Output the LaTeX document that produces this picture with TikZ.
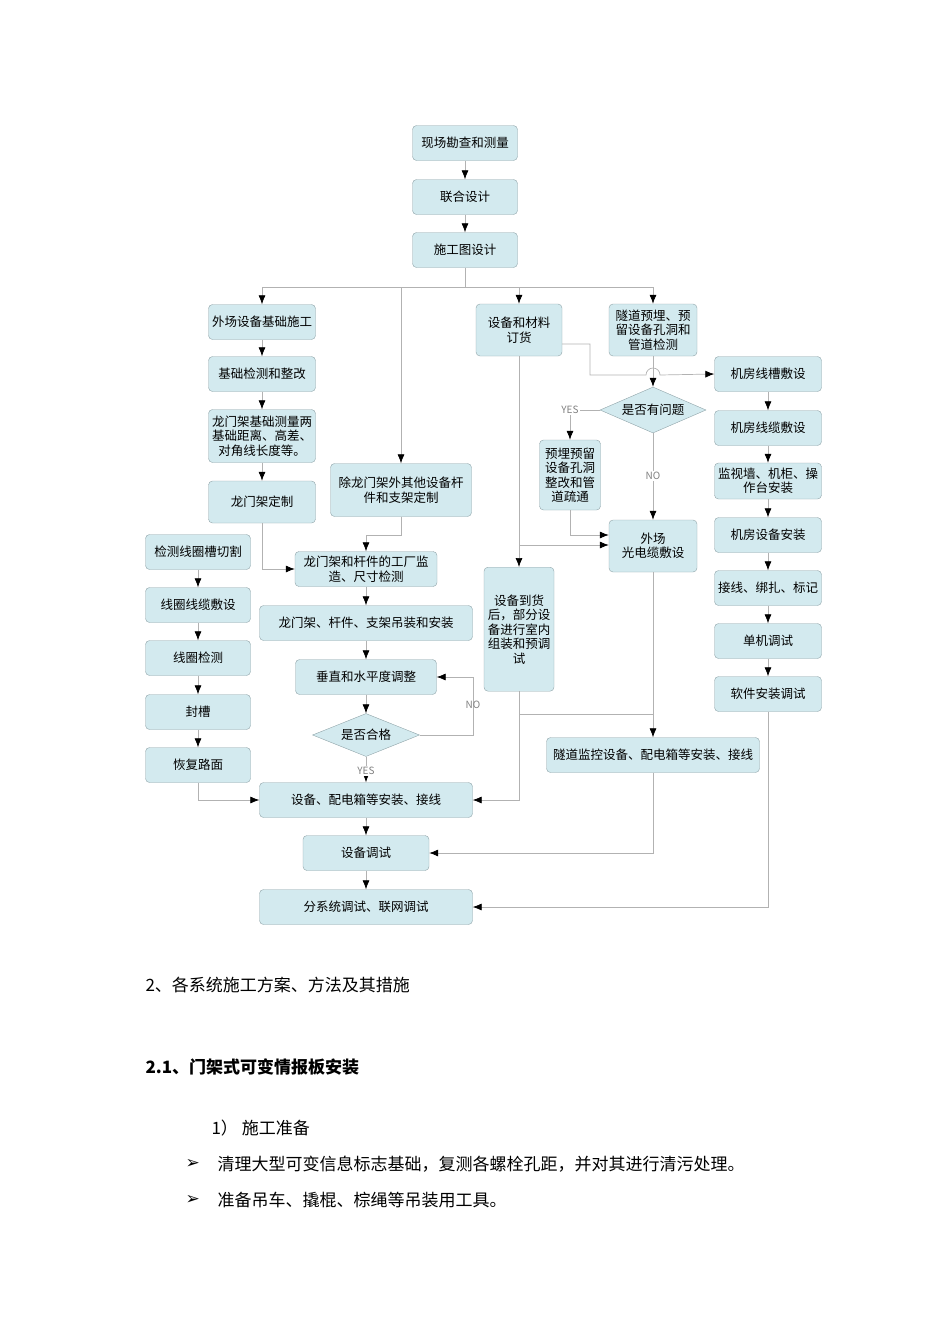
\documentclass[tikz,border=0pt]{standalone}
\usepackage{fontspec}
\setmainfont{Noto Sans CJK SC}
\newfontfamily\symfont{DejaVu Sans}
\usetikzlibrary{arrows.meta,shapes.geometric}
\definecolor{boxfill}{HTML}{D3EAEF}
\definecolor{boxdraw}{HTML}{8FA3A8}
\begin{document}
\begin{tikzpicture}[x=1pt,y=-1pt,
  box/.style={draw=boxdraw,fill=boxfill,rounded corners=4pt,minimum height=35pt,align=center,font=\fontsize{12.5}{14.5}\selectfont,inner sep=1pt},
  dia/.style={draw=boxdraw,fill=boxfill,diamond,aspect=2.5,inner sep=1pt,font=\fontsize{12.5}{14.5}\selectfont},
  ln/.style={draw=gray!60,line width=0.7pt},
  ar/.style={ln,-{Latex[black,length=9pt,width=7pt]}},
  lab/.style={font=\fontsize{10}{12}\selectfont\rmfamily,text=gray}]
\useasboundingbox (0,0) rectangle (950,1344);
% main column
\node[box,minimum width=105pt] (A) at (465,143) {现场勘查和测量};
\node[box,minimum width=105pt] (B) at (465,197) {联合设计};
\node[box,minimum width=105pt] (C) at (465,250) {施工图设计};
\node[box,minimum width=107pt] (D) at (262,322) {外场设备基础施工};
\node[box,minimum width=107pt] (E) at (262,374) {基础检测和整改};
\node[box,minimum width=107pt,minimum height=53pt] (F) at (262,436) {龙门架基础测量两\\基础距离、高差、\\对角线长度等。};
\node[box,minimum width=107pt,minimum height=42pt] (G) at (262,502) {龙门架定制};
\node[box,minimum width=141pt,minimum height=53pt] (H) at (401,490) {除龙门架外其他设备杆\\件和支架定制};
\node[box,minimum width=142pt] (I) at (366,569) {龙门架和杆件的工厂监\\造、尺寸检测};
\node[box,minimum width=105pt] (J) at (198,552) {检测线圈槽切割};
\node[box,minimum width=105pt] (K) at (198,605) {线圈线缆敷设};
\node[box,minimum width=105pt] (L) at (198,658) {线圈检测};
\node[box,minimum width=105pt] (M) at (198,712) {封槽};
\node[box,minimum width=105pt] (N) at (198,765) {恢复路面};
\node[box,minimum width=213pt] (O) at (366,623) {龙门架、杆件、支架吊装和安装};
\node[box,minimum width=141pt] (P) at (366,677) {垂直和水平度调整};
\node[dia,minimum width=107pt,minimum height=43pt] (Q) at (366,735) {是否合格};
\node[box,minimum width=213pt] (R) at (366,800) {设备、配电箱等安装、接线};
\node[box,minimum width=126pt] (S) at (366,853) {设备调试};
\node[box,minimum width=213pt] (T) at (366,907) {分系统调试、联网调试};
\node[box,minimum width=86pt,minimum height=52pt] (U) at (519,330) {设备和材料\\订货};
\node[box,minimum width=70pt,minimum height=124pt,anchor=north] (V) at (519,567) {设备到货\\后，部分设\\备进行室内\\组装和预调\\试};
\node[box,minimum width=88pt,minimum height=52pt] (W) at (653,330) {隧道预埋、预\\留设备孔洞和\\管道检测};
\node[dia,minimum width=106pt,minimum height=46pt] (X) at (653,410) {是否有问题};
\node[box,minimum width=61pt,minimum height=70pt] (Y) at (570,475) {预埋预留\\设备孔洞\\整改和管\\道疏通};
\node[box,minimum width=88pt,minimum height=52pt] (Z) at (653,546) {外场\\光电缆敷设};
\node[box,minimum width=213pt] (AA) at (653,755) {隧道监控设备、配电箱等安装、接线};
\node[box,minimum width=107pt] (BB) at (768,374) {机房线槽敷设};
\node[box,minimum width=107pt] (CC) at (768,428) {机房线缆敷设};
\node[box,minimum width=107pt,minimum height=36pt] (DD) at (768,481) {监视墙、机柜、操\\作台安装};
\node[box,minimum width=107pt] (EE) at (768,535) {机房设备安装};
\node[box,minimum width=107pt] (FF) at (768,588) {接线、绑扎、标记};
\node[box,minimum width=107pt] (GG) at (768,641) {单机调试};
\node[box,minimum width=107pt] (HH) at (768,694) {软件安装调试};
% connectors
\draw[ar] (A) -- (B);
\draw[ar] (B) -- (C);
\coordinate (bus) at (465,287);
\draw[ln] (C.south) -- (bus);
\draw[ln] (262,287) -- (653,287);
\draw[ar] (262,287) -- (D.north);
\draw[ar] (401,287) -- (H.north);
\draw[ar] (519,287) -- (U.north);
\draw[ar] (653,287) -- (W.north);
\draw[ar] (D) -- (E);
\draw[ar] (E) -- (F);
\draw[ar] (F) -- (G);
\draw[ar] (G.south) |- (I.west);
\draw[ar] (H.south) -- (401,535) -| (I.north);
\draw[ar] (I) -- (O);
\draw[ar] (O) -- (P);
\draw[ar] (P) -- (Q);
\draw[ar] (Q.east) -- (473,735) -- (473,677) -- (P.east);
\node[lab] (noq) at (473,705) {NO};
\draw[ar] (Q.south) -- (R.north);
\node[lab,fill=white,inner sep=1pt] (yesq) at (366,771) {YES};
\draw[ar] (J) -- (K);
\draw[ar] (K) -- (L);
\draw[ar] (L) -- (M);
\draw[ar] (M) -- (N);
\draw[ar] (N.south) |- (R.west);
\draw[ar] (R) -- (S);
\draw[ar] (S) -- (T);
\draw[ar] (U.south) -- (V.north);
\draw[ar] (519,545) -- (Z.west |- 0,545);
\draw[ar] (U.east |- 0,344) -- (590,344) -- (590,375) -- (646,375) arc (180:360:7) -- (BB.west);
\draw[ar] (W.south) -- (X.north);
\draw[ar] (X.west) -- (570,410) -- (Y.north);
\node[lab,fill=white,inner sep=1pt] (yesx) at (570,410) {YES};
\draw[ar] (X.south) -- (Z.north);
\node[lab,fill=white,inner sep=1pt] (nox) at (653,476) {NO};
\draw[ar] (Y.south) |- (Z.west |- 0,535);
\draw[ar] (Z.south) -- (AA.north);
\draw[ln] (V.south) -- (519,714) -- (653,714);
\draw[ar] (519,714) |- (R.east);
\draw[ar] (AA.south) |- (S.east);
\draw[ar] (BB) -- (CC);
\draw[ar] (CC) -- (DD);
\draw[ar] (DD) -- (EE);
\draw[ar] (EE) -- (FF);
\draw[ar] (FF) -- (GG);
\draw[ar] (GG) -- (HH);
\draw[ar] (HH.south) |- (T.east);
% text
\node[anchor=west,font=\fontsize{17}{20}\selectfont] (t1) at (142,985) {2、各系统施工方案、方法及其措施};
\node[anchor=west,font=\fontsize{17}{20}\selectfont\bfseries] (t2) at (142,1067) {2.1、门架式可变情报板安装};
\node[anchor=west,font=\fontsize{17}{20}\selectfont] (t3) at (208,1128) {1）\ 施工准备};
\node[anchor=west,font=\fontsize{17}{20}\selectfont\symfont] (b1) at (182,1164) {➢};
\node[anchor=west,font=\fontsize{17}{20}\selectfont] (t4) at (214,1164) {清理大型可变信息标志基础，复测各螺栓孔距，并对其进行清污处理。};
\node[anchor=west,font=\fontsize{17}{20}\selectfont\symfont] (b2) at (182,1200) {➢};
\node[anchor=west,font=\fontsize{17}{20}\selectfont] (t5) at (214,1200) {准备吊车、撬棍、棕绳等吊装用工具。};
\end{tikzpicture}
\end{document}
